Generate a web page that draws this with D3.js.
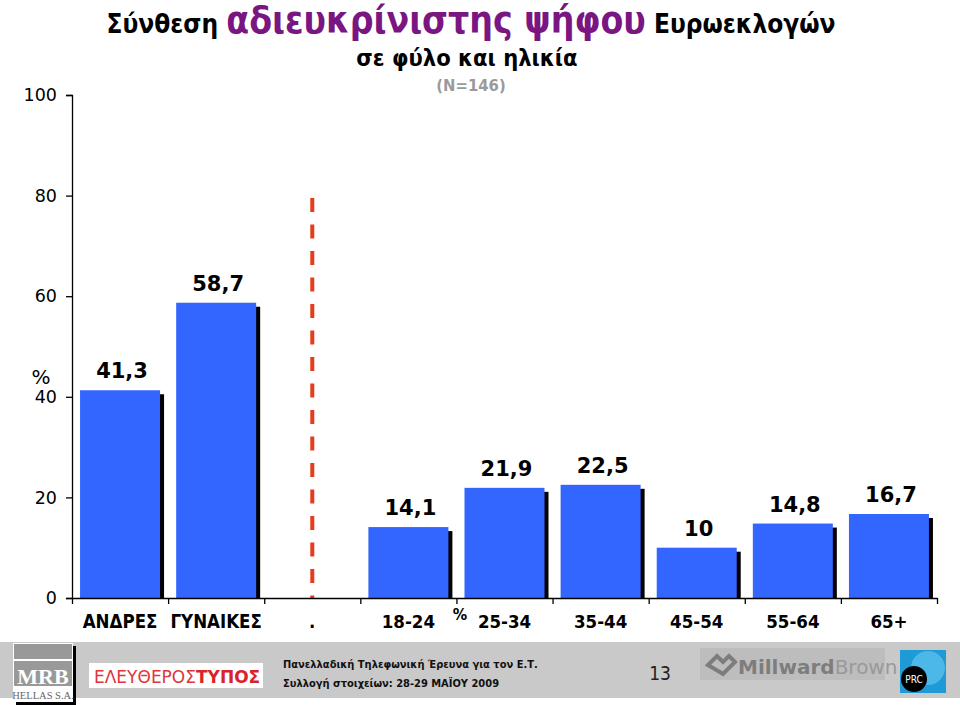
<!DOCTYPE html>
<html>
<head>
<meta charset="utf-8">
<script src="https://cdn.jsdelivr.net/npm/d3@7"></script>
<style>
  html, body { margin: 0; padding: 0; background: #fff; }
  svg { display: block; }
  .cond { font-family: "DejaVu Sans Condensed", "DejaVu Sans", sans-serif; font-stretch: condensed; }
  .verd { font-family: "DejaVu Sans", Verdana, sans-serif; }
</style>
</head>
<body>
<script>
// ---- data ----
const categories = ["ΑΝΔΡΕΣ", "ΓΥΝΑΙΚΕΣ", ".", "18-24", "25-34", "35-44", "45-54", "55-64", "65+"];
const values = [41.3, 58.7, null, 14.1, 21.9, 22.5, 10, 14.8, 16.7];
const valueLabels = ["41,3", "58,7", "", "14,1", "21,9", "22,5", "10", "14,8", "16,7"];
const yTicks = [0, 20, 40, 60, 80, 100];
const titleParts = ["Σύνθεση ", "αδιευκρίνιστης ψήφου", " Ευρωεκλογών"];
const subtitle = "σε φύλο και ηλικία";
const sampleNote = "(N=146)";
const footerLines = ["Πανελλαδική  Τηλεφωνική Έρευνα για τον Ε.Τ.", "Συλλογή στοιχείων: 28-29 ΜΑΪΟΥ 2009"];
const pageNumber = "13";
const dividerCategory = ".";
const dividerTop = 79.5;

const W = 960, H = 705;
const svg = d3.select("body").append("svg").attr("width", W).attr("height", H);

const x = d3.scaleBand().domain(categories).range([72, 937]).paddingInner(0).paddingOuter(0);
const y = d3.scaleLinear().domain([0, 100]).range([598, 95]);

// ---- title ----
const t = svg.append("text").attr("class", "cond").attr("x", 471).attr("y", 33)
  .attr("text-anchor", "middle").attr("font-weight", "bold");
t.append("tspan").attr("font-size", 26).attr("fill", "#000").text(titleParts[0]);
t.append("tspan").attr("font-size", 37).attr("fill", "#7a1682").text(titleParts[1]);
t.append("tspan").attr("font-size", 26).attr("fill", "#000").text(titleParts[2]);

svg.append("text").attr("class", "cond").attr("x", 467).attr("y", 66)
  .attr("text-anchor", "middle").attr("font-weight", "bold").attr("font-size", 23.5)
  .text(subtitle);
svg.append("text").attr("class", "cond").attr("x", 471).attr("y", 91)
  .attr("text-anchor", "middle").attr("font-weight", "bold").attr("font-size", 16.5)
  .attr("fill", "#9a9a9a").text(sampleNote);

// ---- y axis ----
const yAxis = svg.append("g").attr("transform", "translate(72,0)")
  .call(d3.axisLeft(y).tickValues(yTicks).tickSize(6).tickPadding(9));
yAxis.selectAll("path, line").attr("stroke", "#000").attr("stroke-width", 1.3);
yAxis.selectAll("text").attr("class", "verd").attr("font-size", 17.5).attr("fill", "#000");
svg.append("text").attr("class", "verd").attr("x", 41).attr("y", 384)
  .attr("text-anchor", "middle").attr("font-size", 20).text("%");

// ---- bars ----
const barW = 80;
const data = categories.map((c, i) => ({ c, v: values[i], l: valueLabels[i] })).filter(d => d.v != null);
const bx = d => x(d.c) + (x.bandwidth() - barW) / 2;

svg.append("g").selectAll("rect").data(data).join("rect")
  .attr("x", d => bx(d) + 4).attr("y", d => y(d.v) + 4)
  .attr("width", barW).attr("height", d => y(0) - y(d.v) - 4)
  .attr("fill", "#000");
svg.append("g").selectAll("rect").data(data).join("rect")
  .attr("x", bx).attr("y", d => y(d.v))
  .attr("width", barW).attr("height", d => y(0) - y(d.v))
  .attr("fill", "#3366ff");

svg.append("g").selectAll("text").data(data).join("text")
  .attr("class", "verd").attr("font-weight", "bold").attr("font-size", 21)
  .attr("text-anchor", "middle")
  .attr("x", d => x(d.c) + x.bandwidth() / 2 + 2).attr("y", d => y(d.v) - 12)
  .text(d => d.l);

// ---- divider ----
const dx = x(dividerCategory) + x.bandwidth() / 2;
svg.append("line").attr("x1", dx).attr("x2", dx).attr("y1", y(dividerTop)).attr("y2", y(0))
  .attr("stroke", "#e63c1e").attr("stroke-width", 4).attr("stroke-dasharray", "14,12.5");

// ---- x axis ----
const bounds = d3.range(categories.length + 1).map(i => 72 + i * x.step());
const xl = d3.scaleLinear().domain([72, 937]).range([72, 937]);
const xAxis = svg.append("g").attr("transform", `translate(0,${y(0)})`)
  .call(d3.axisBottom(xl).tickValues(bounds).tickSize(6).tickSizeOuter(0).tickFormat(""));
xAxis.selectAll("path, line").attr("stroke", "#000").attr("stroke-width", 1.3);

const xLab = svg.append("g").attr("transform", `translate(0,${y(0)})`)
  .call(d3.axisBottom(x).tickSize(0).tickPadding(17));
xLab.select(".domain").remove();
xLab.selectAll("text").attr("class", "cond").attr("font-weight", "bold")
  .attr("font-size", 18.5).attr("fill", "#000");
svg.append("text").attr("class", "cond").attr("font-weight", "bold").attr("font-size", 16)
  .attr("x", 460).attr("y", 620).attr("text-anchor", "middle").text("%");

// ---- footer ----
const f = svg.append("g");
f.append("rect").attr("x", 0).attr("y", 642).attr("width", W).attr("height", 56).attr("fill", "#c9c9c9");
// MRB logo
f.append("rect").attr("x", 16).attr("y", 646).attr("width", 60).attr("height", 59).attr("fill", "#000");
f.append("rect").attr("x", 13).attr("y", 643).attr("width", 60).attr("height", 59).attr("fill", "#fff");
f.append("rect").attr("x", 14).attr("y", 644).attr("width", 58).attr("height", 15).attr("fill", "#999");
f.append("rect").attr("x", 14).attr("y", 661).attr("width", 58).attr("height", 25).attr("fill", "#999");
f.append("text").attr("x", 43).attr("y", 684).attr("text-anchor", "middle")
  .attr("font-family", "Liberation Serif, serif").attr("font-weight", "bold").attr("font-size", 22)
  .attr("fill", "#fff").text("MRB");
f.append("text").attr("x", 43).attr("y", 699).attr("text-anchor", "middle")
  .attr("font-family", "Liberation Serif, serif").attr("font-size", 10.5)
  .attr("fill", "#666").text("HELLAS S.A.");
// Eleftheros Typos
f.append("rect").attr("x", 89).attr("y", 663).attr("width", 174).attr("height", 25).attr("fill", "#fff");
const et = f.append("text").attr("x", 94).attr("y", 683).attr("font-family", "DejaVu Sans, sans-serif")
  .attr("fill", "#e0353b").attr("font-size", 17);
et.append("tspan").attr("font-weight", "normal").attr("font-family", "DejaVu Sans ExtraLight, DejaVu Sans, sans-serif").text("ΕΛΕΥΘΕΡΟΣ");
et.append("tspan").attr("font-weight", "bold").attr("fill", "#d8232a").text("ΤΥΠΟΣ");
// footer text
f.selectAll(".fl").data(footerLines).join("text").attr("class", "cond fl")
  .attr("x", 283).attr("y", (d, i) => 668 + i * 19).attr("font-size", 11)
  .attr("font-weight", "bold").attr("fill", "#111").text(d => d);
f.append("text").attr("class", "cond").attr("x", 660).attr("y", 680).attr("text-anchor", "middle")
  .attr("font-size", 19).attr("fill", "#222").text(pageNumber);
// MillwardBrown
f.append("rect").attr("x", 700).attr("y", 648).attr("width", 185).attr("height", 32).attr("fill", "#bdbdbd");
f.append("text").attr("x", 738).attr("y", 674).attr("font-family", "DejaVu Sans, sans-serif")
  .attr("font-weight", "bold").attr("font-size", 20).attr("fill", "#7d7d7d")
  .append("tspan").text("Millward").append("tspan").attr("fill", "#999").attr("font-weight", "normal").text("Brown");
f.append("path").attr("d", "M708,665 l9,-9 l6,6 l6,-6 l6,6 l-12,12 z").attr("fill", "none")
  .attr("stroke", "#7d7d7d").attr("stroke-width", 4);
// PRC
f.append("rect").attr("x", 900).attr("y", 650).attr("width", 46).attr("height", 43).attr("fill", "#1e9bd7");
f.append("circle").attr("cx", 928).attr("cy", 668).attr("r", 17).attr("fill", "#4cb8e8");
f.append("circle").attr("cx", 914).attr("cy", 679).attr("r", 13).attr("fill", "#000");
f.append("text").attr("x", 914).attr("y", 683).attr("text-anchor", "middle").attr("class", "cond")
  .attr("font-size", 10).attr("fill", "#fff").text("PRC");
</script>
</body>
</html>
